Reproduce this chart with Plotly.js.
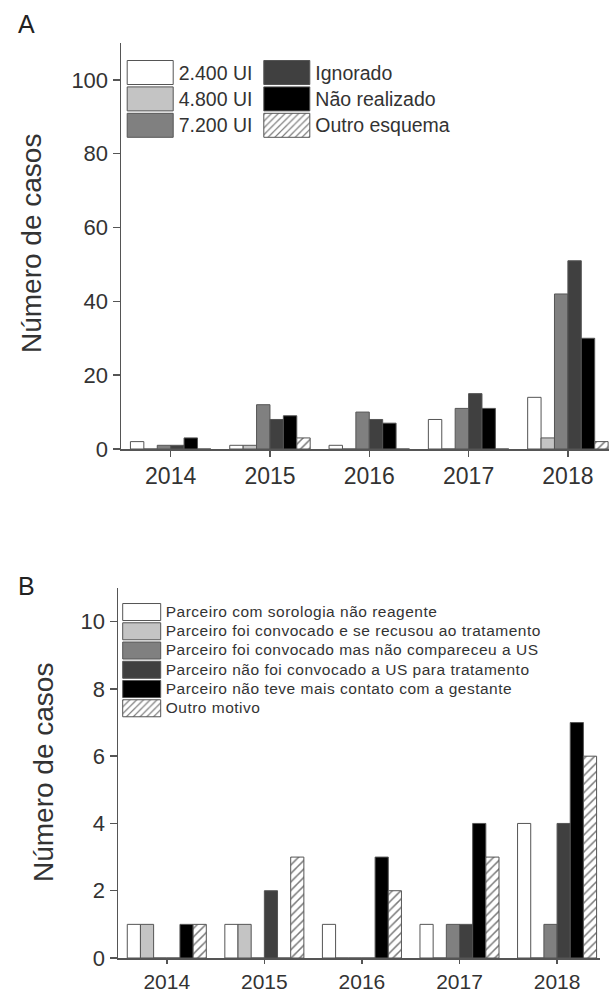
<!DOCTYPE html>
<html><head><meta charset="utf-8">
<script src="https://cdn.plot.ly/plotly-3.0.1.min.js"></script>
<style>html,body{margin:0;padding:0;background:#fff}#chart{width:609px;height:993px}</style>
</head><body><div id="chart"></div>
<script>
// ---- Data ----
const years = ['2014', '2015', '2016', '2017', '2018'];

// Panel A
const namesA = ['2.400 UI', '4.800 UI', '7.200 UI', 'Ignorado', 'Não realizado', 'Outro esquema'];
const dose2400 = [2, 1, 1, 8, 14];
const dose4800 = [0, 1, 0, 0, 3];
const dose7200 = [1, 12, 10, 11, 42];
const ignorado = [1, 8, 8, 15, 51];
const naoRealizado = [3, 9, 7, 11, 30];
const outroEsquema = [0, 3, 0, 0, 2];
const yTicksA = [0, 20, 40, 60, 80, 100];

// Panel B
const namesB = [
  'Parceiro com sorologia não reagente',
  'Parceiro foi convocado e se recusou ao tratamento',
  'Parceiro foi convocado mas não compareceu a US',
  'Parceiro não foi convocado a US para tratamento',
  'Parceiro não teve mais contato com a gestante',
  'Outro motivo'
];
const sorologiaNaoReagente = [1, 1, 1, 1, 4];
const recusouTratamento = [1, 1, 0, 0, 0];
const naoCompareceu = [0, 0, 0, 1, 1];
const naoConvocado = [0, 2, 0, 1, 4];
const semContato = [1, 0, 3, 4, 7];
const outroMotivo = [1, 3, 2, 3, 6];
const yTicksB = [0, 2, 4, 6, 8, 10];

// ---- Styles ----
const fills = ['#ffffff', '#c4c4c4', '#808080', '#404040', '#000000', '#ffffff'];
const lineCol = '#555555';

function mk(name, y, i, xa, ya, legend) {
  const marker = {color: fills[i], line: {color: lineCol, width: 1}};
  if (i === 5) {
    marker.pattern = {shape: '/', fgcolor: '#7a7a7a', bgcolor: '#ffffff', size: 6, solidity: 0.25, fillmode: 'replace'};
  }
  return {type: 'bar', name: name, x: years, y: y, xaxis: xa, yaxis: ya,
          marker: marker, legend: legend, hoverinfo: 'none'};
}

const seriesA = [dose2400, dose4800, dose7200, ignorado, naoRealizado, outroEsquema];
const seriesB = [sorologiaNaoReagente, recusouTratamento, naoCompareceu, naoConvocado, semContato, outroMotivo];

const data = [];
seriesA.forEach((s, i) => data.push(mk(namesA[i], s, i, 'x', 'y', i < 3 ? 'legend' : 'legend2')));
seriesB.forEach((s, i) => data.push(mk(namesB[i], s, i, 'x2', 'y2', 'legend3')));

const H = 993, W = 609;
const axCommon = {
  showline: true, linecolor: lineCol, linewidth: 1.5, ticks: 'outside', tickcolor: lineCol,
  tickwidth: 1.5, showgrid: false, zeroline: false, fixedrange: true,
  tickfont: {size: 22, color: '#333'}
};

const layout = {
  width: W, height: H,
  margin: {l: 0, r: 0, t: 0, b: 0},
  paper_bgcolor: '#ffffff', plot_bgcolor: 'rgba(0,0,0,0)',
  font: {family: 'Liberation Sans, Arial, sans-serif', color: '#333'},
  barmode: 'group', bargap: 0.19, bargroupgap: 0,
  xaxis: Object.assign({}, axCommon, {type: 'category', domain: [121 / W, 1], range: [-0.5, 4.414], anchor: 'y',
          ticklen: 6, tickfont: {size: 23, color: '#333'}}),
  yaxis: Object.assign({}, axCommon, {domain: [1 - 449 / H, 1 - 43 / H], range: [0, 110], anchor: 'x',
          tickvals: yTicksA, ticklen: 7}),
  xaxis2: Object.assign({}, axCommon, {type: 'category', domain: [118 / W, 600 / W], range: [-0.5, 4.44], anchor: 'y2',
          ticklen: 4, tickfont: {size: 21, color: '#333'}}),
  yaxis2: Object.assign({}, axCommon, {domain: [1 - 958 / H, 1 - 588 / H], range: [0, 11], anchor: 'x2',
          tickvals: yTicksB, ticklen: 7}),
  legend: {x: 121.7 / W, xanchor: 'left', y: 1 - 54.3 / H, yanchor: 'top', bgcolor: 'rgba(0,0,0,0)',
           borderwidth: 0, font: {size: 18, color: '#333'}, itemwidth: 47, tracegroupgap: 0},
  legend2: {x: 258.3 / W, xanchor: 'left', y: 1 - 54.3 / H, yanchor: 'top', bgcolor: 'rgba(0,0,0,0)',
           borderwidth: 0, font: {size: 18, color: '#333'}, itemwidth: 47, tracegroupgap: 0},
  legend3: {x: 117.7 / W, xanchor: 'left', y: 1 - 597.4 / H, yanchor: 'top', bgcolor: 'rgba(0,0,0,0)',
           borderwidth: 0, font: {size: 12.5, color: '#333'}, itemwidth: 38, tracegroupgap: 0},
  annotations: [
    {text: 'A', xref: 'paper', yref: 'paper', x: 16 / W, y: 1 - 8 / H, xanchor: 'left', yanchor: 'top',
     showarrow: false, font: {size: 25, color: '#222'}},
    {text: 'B', xref: 'paper', yref: 'paper', x: 16 / W, y: 1 - 570 / H, xanchor: 'left', yanchor: 'top',
     showarrow: false, font: {size: 25, color: '#222'}},
    {text: 'Número de casos', xref: 'paper', yref: 'paper', x: 31 / W, y: 1 - 244 / H, xanchor: 'center',
     yanchor: 'middle', textangle: -90, showarrow: false, font: {size: 28, color: '#333'}},
    {text: 'Número de casos', xref: 'paper', yref: 'paper', x: 43 / W, y: 1 - 773 / H, xanchor: 'center',
     yanchor: 'middle', textangle: -90, showarrow: false, font: {size: 28, color: '#333'}}
  ]
};

function fixLegend(cls, w, h, fs, ls) {
  document.querySelectorAll('g.' + cls).forEach(function (lg) {
    lg.querySelectorAll('[clip-path]').forEach(function (e) { e.removeAttribute('clip-path'); });
    lg.removeAttribute('clip-path');
  });
  document.querySelectorAll('g.' + cls + ' g.traces').forEach(function (g) {
    g.querySelectorAll('g.legendpoints path').forEach(function (p) {
      p.setAttribute('d', 'M' + (-w / 2) + ',' + (-h / 2) + 'h' + w + 'v' + h + 'h' + (-w) + 'Z');
    });
    g.querySelectorAll('text').forEach(function (t) {
      if (fs) t.style.setProperty('font-size', fs + 'px', 'important');
      if (ls) t.style.setProperty('letter-spacing', ls + 'px', 'important');
    });
  });
}
function fixAll() {
  fixLegend('legend', 46, 24, 19.5, 0);
  fixLegend('legend2', 46, 24, 19.5, 0);
  fixLegend('legend3', 38, 17, 15.5, 0.5);
}

Plotly.newPlot('chart', data, layout, {staticPlot: true, displayModeBar: false}).then(function () {
  fixAll();
  setTimeout(fixAll, 50);
});
</script>
</body></html>
